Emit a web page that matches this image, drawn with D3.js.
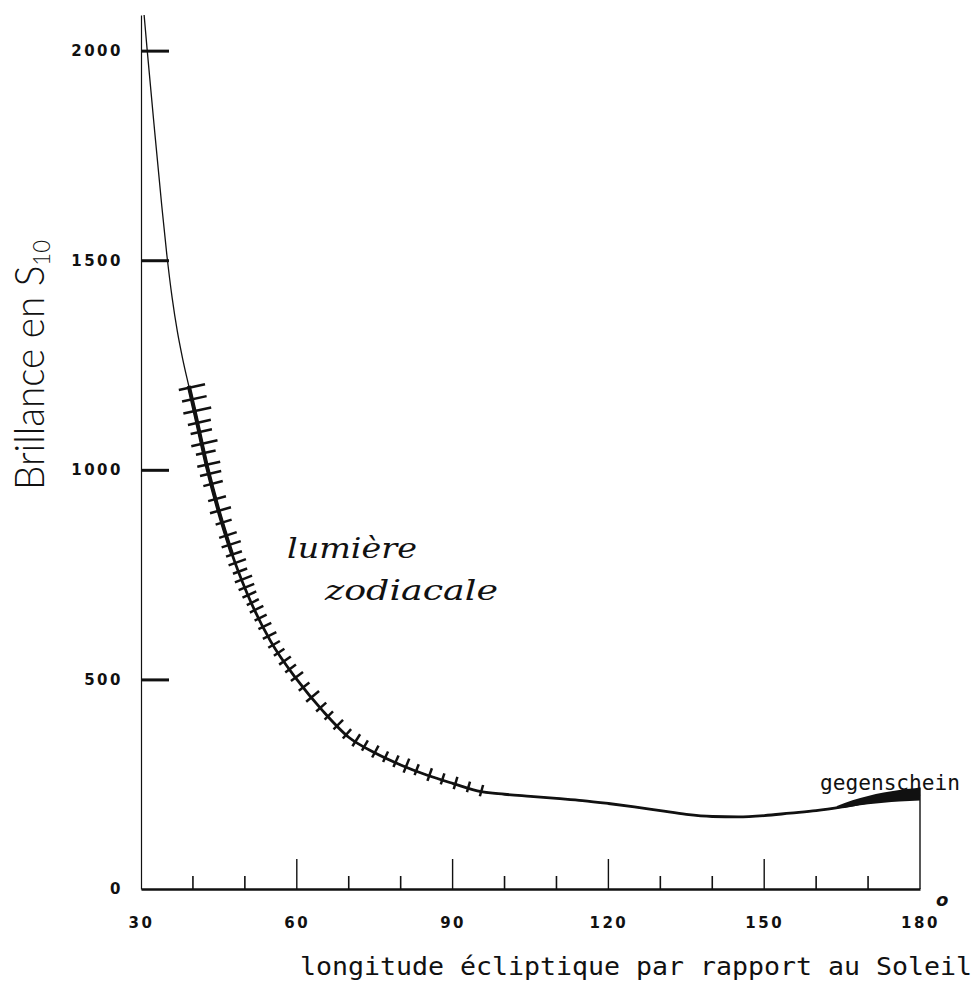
<!DOCTYPE html>
<html>
<head>
<meta charset="utf-8">
<script src="https://cdn.jsdelivr.net/npm/d3@7"></script>
<style>
  body { margin: 0; background: #fff; }
  .tick text { font-family: "DejaVu Sans", sans-serif; font-weight: bold; font-size: 15px; letter-spacing: 2.5px; fill: #111; }
</style>
</head>
<body>
<div id="chart"></div>
<script>
// courbe moyenne de la lumière zodiacale
const lonCurve = [30.6, 31.2, 32.5, 34, 35, 36, 37, 38, 39.2, 40.5, 42.7, 45, 47.5, 50.4, 55, 60, 65, 70, 75, 80, 85, 90, 95.5,
                  100, 105, 110, 115, 120, 125, 130, 135, 140, 145, 150, 155, 160, 165, 170, 175, 180];
const valCurve = [2085, 2000, 1825, 1630, 1510, 1410, 1330, 1266, 1200, 1130, 1008, 900, 800, 706, 590, 500, 425, 362, 325, 296, 272, 252, 232,
                  226, 221, 216, 211, 204, 196, 187, 178, 173, 172, 175, 181, 187, 196, 207, 216, 226];

// points observés (barres d'erreur)
const obsLon = [39.3, 39.8, 40.3, 40.8, 41.2, 41.7, 42.1, 42.6, 43.0, 43.5, 44.3, 44.9, 45.6, 46.4, 47.0, 47.6, 48.2, 48.8, 49.4, 50.0,
                50.6, 51.3, 52.0, 52.8, 53.6, 54.5, 55.4, 56.4, 57.5, 58.6, 59.8, 61.2, 62.8, 64.5, 66.0, 67.8, 69.5, 71.3, 73.0,
                75.0, 77.0, 79.0, 81.0, 83.0, 85.5, 88.0, 90.5, 93.0, 95.5];
const obsVal = [1196, 1168, 1140, 1112, 1090, 1062, 1040, 1012, 990, 966, 930, 902, 874, 843, 821, 798, 778, 757, 738, 719,
                701, 683, 666, 646, 626, 603, 582, 563, 543, 524, 505, 481, 457, 432, 412, 390, 368, 352, 340,
                325, 313, 302, 291, 282, 270, 260, 250, 241, 232];
const obsErr = [32, 30, 34, 28, 26, 32, 24, 28, 26, 24, 22, 26, 20, 22, 24, 20, 22, 18, 22, 20,
                18, 16, 18, 16, 17, 18, 16, 15, 17, 16, 18, 16, 20, 16, 14, 16, 15, 17, 14,
                16, 14, 15, 18, 14, 16, 14, 15, 13, 14];

// gegenschein
const gegLon = [164, 167, 170, 173, 176, 178, 180];
const gegLow = [192, 197, 202, 206, 209, 210, 211];
const gegHigh = [198, 212, 222, 230, 236, 239, 242];

const xTicksMajor = [30, 60, 90, 120, 150, 180];
const xTicksMinor = [40, 50, 70, 80, 100, 110, 130, 140, 160, 170];
const xTicksMid = [60, 90, 120, 150];
const yTicks = [0, 500, 1000, 1500, 2000];

const margin = {top: 15, right: 57, bottom: 92, left: 141},
      width = 977 - margin.left - margin.right,
      height = 981 - margin.top - margin.bottom;

const svg = d3.select("#chart")
              .append("svg")
              .attr("width", 977)
              .attr("height", 981)
              .append("g")
              .attr("transform", `translate(${margin.left},${margin.top})`);

const x = d3.scaleLinear().domain([30, 180]).range([0, width]);
const y = d3.scaleLinear().domain([0, 2085]).range([height, 0]);

// axe vertical
const yAxis = svg.append("g")
   .call(d3.axisLeft(y).tickValues(yTicks).tickSizeInner(-28).tickSizeOuter(0).tickPadding(18).tickFormat(d3.format("d")));
yAxis.select(".domain").attr("stroke", "#111").attr("stroke-width", 1.2);
yAxis.selectAll(".tick line").attr("stroke", "#111").attr("stroke-width", 3);
yAxis.selectAll(".tick").filter(d => d === 0).select("line").remove();

// axe horizontal
const xAxis = svg.append("g")
   .attr("transform", `translate(0,${height})`)
   .call(d3.axisBottom(x).tickValues(xTicksMajor).tickSize(0).tickPadding(28).tickFormat(d3.format("d")));
xAxis.select(".domain").attr("stroke", "#111").attr("stroke-width", 2.6);

svg.append("g")
   .selectAll("line")
   .data(xTicksMid)
   .enter().append("line")
   .attr("x1", d => x(d)).attr("x2", d => x(d))
   .attr("y1", height).attr("y2", height - 30)
   .attr("stroke", "#111").attr("stroke-width", 1.4);

svg.append("g")
   .selectAll("line")
   .data(xTicksMinor)
   .enter().append("line")
   .attr("x1", d => x(d)).attr("x2", d => x(d))
   .attr("y1", height).attr("y2", height - 13)
   .attr("stroke", "#111").attr("stroke-width", 1.6);

// trait vertical à 180°
svg.append("line")
   .attr("x1", x(180)).attr("x2", x(180))
   .attr("y1", y(0)).attr("y2", y(gegHigh[gegHigh.length - 1]))
   .attr("stroke", "#111").attr("stroke-width", 1.4);

svg.append("text")
   .attr("x", x(180) + 16).attr("y", height + 17)
   .style("font-family", "DejaVu Sans").style("font-weight", "bold").style("font-style", "italic")
   .style("font-size", "18px").attr("fill", "#111")
   .text("o");

// courbe
const curvePts = lonCurve.map((d, i) => ({lon: d, val: valCurve[i]}));
const line = d3.line()
               .x(d => x(d.lon))
               .y(d => y(d.val))
               .curve(d3.curveMonotoneX);

svg.append("path")
   .datum(curvePts)
   .attr("fill", "none")
   .attr("stroke", "#111")
   .attr("stroke-width", 1.3)
   .attr("d", line);

svg.append("path")
   .datum(curvePts.filter(d => d.lon >= 39.2))
   .attr("fill", "none")
   .attr("stroke", "#111")
   .attr("stroke-width", 2.8)
   .attr("d", line);

svg.append("path")
   .datum(curvePts.filter(d => d.lon >= 39.2 && d.lon <= 47.5))
   .attr("fill", "none")
   .attr("stroke", "#111")
   .attr("stroke-width", 4)
   .attr("d", line);

// bande du gegenschein
const gegPts = gegLon.map((d, i) => ({lon: d, lo: gegLow[i], hi: gegHigh[i]}));
svg.append("path")
   .datum(gegPts)
   .attr("fill", "#111")
   .attr("d", d3.area().x(d => x(d.lon)).y0(d => y(d.lo)).y1(d => y(d.hi)).curve(d3.curveMonotoneX));

// barres d'erreur perpendiculaires à la courbe
const obsPts = obsLon.map((d, i) => ({lon: d, val: obsVal[i], err: obsErr[i]}));
svg.append("g")
   .selectAll("line")
   .data(obsPts)
   .enter().append("line")
   .each(function(d, i) {
       const a = obsPts[Math.max(i - 1, 0)], b = obsPts[Math.min(i + 1, obsPts.length - 1)];
       const dx = x(b.lon) - x(a.lon), dy = y(b.val) - y(a.val);
       const len = Math.sqrt(dx * dx + dy * dy);
       const nx = dy / len, ny = -dx / len;
       const h = y(0) - y(d.err);
       const cx = x(d.lon), cy = y(d.val);
       d3.select(this)
         .attr("x1", cx - nx * h * 0.8).attr("y1", cy - ny * h * 0.8)
         .attr("x2", cx + nx * h * 1.2).attr("y2", cy + ny * h * 1.2);
   })
   .attr("stroke", "#111")
   .attr("stroke-width", 2.5);

// textes
svg.append("text")
   .attr("transform", `translate(${44 - margin.left},${365 - margin.top}) rotate(-90)`)
   .attr("text-anchor", "middle")
   .attr("textLength", 250).attr("lengthAdjust", "spacingAndGlyphs")
   .style("font-family", "Lato, 'Open Sans', sans-serif")
   .style("font-weight", 300)
   .style("font-size", "42px")
   .attr("fill", "#111")
   .html('Brillance en S<tspan font-size="24px" dy="6">10</tspan>');

svg.append("text")
   .attr("x", 287 - margin.left).attr("y", 558 - margin.top)
   .attr("textLength", 130).attr("lengthAdjust", "spacingAndGlyphs")
   .style("font-family", "'DejaVu Serif', serif").style("font-style", "italic")
   .style("font-size", "28px").attr("fill", "#111")
   .text("lumière");

svg.append("text")
   .attr("x", 325 - margin.left).attr("y", 600 - margin.top)
   .attr("textLength", 173).attr("lengthAdjust", "spacingAndGlyphs")
   .style("font-family", "'DejaVu Serif', serif").style("font-style", "italic")
   .style("font-size", "28px").attr("fill", "#111")
   .text("zodiacale");

svg.append("text")
   .attr("x", 820 - margin.left).attr("y", 790 - margin.top)
   .attr("textLength", 140).attr("lengthAdjust", "spacingAndGlyphs")
   .style("font-family", "'DejaVu Sans Mono', monospace")
   .style("font-size", "21px").attr("fill", "#111")
   .text("gegenschein");

svg.append("text")
   .attr("x", 300 - margin.left).attr("y", 975 - margin.top)
   .attr("textLength", 672).attr("lengthAdjust", "spacingAndGlyphs")
   .style("font-family", "'DejaVu Sans Mono', monospace")
   .style("font-size", "24px").attr("fill", "#111")
   .text("longitude écliptique par rapport au Soleil");
</script>
</body>
</html>
